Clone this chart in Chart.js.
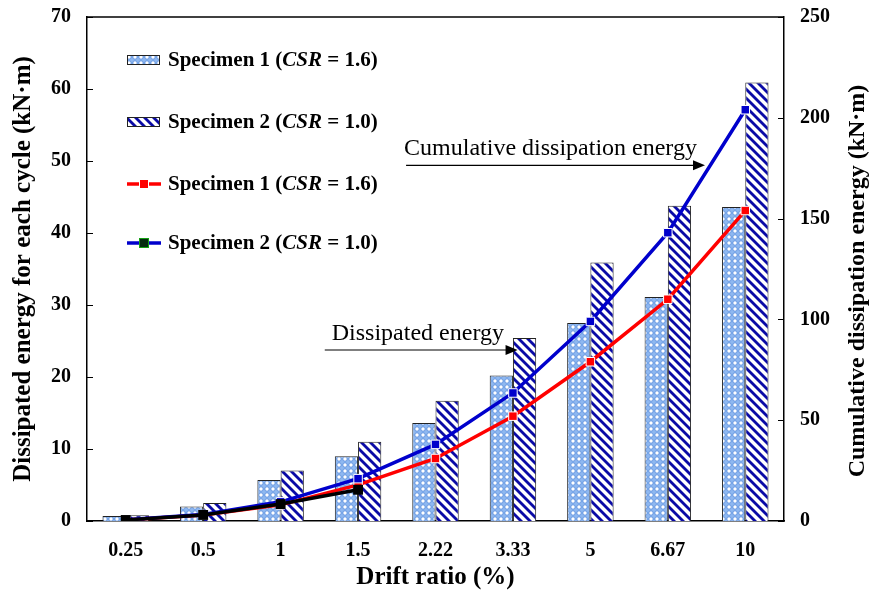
<!DOCTYPE html>
<html>
<head>
<meta charset="utf-8">
<script src="https://cdn.jsdelivr.net/npm/chart.js@4.4.0/dist/chart.umd.min.js"></script>
<style>
  html, body { margin: 0; padding: 0; background: #fff; }
</style>
</head>
<body>
<canvas id="energy-chart" width="872" height="593"></canvas>
<script>
// categories
const driftRatios = ['0.25', '0.5', '1', '1.5', '2.22', '3.33', '5', '6.67', '10'];

// dissipated energy for each cycle (left axis, kN·m)
const spec1Energy = [0.7, 2.0, 5.7, 9.0, 13.6, 20.2, 27.5, 31.1, 43.6];
const spec2Energy = [0.8, 2.5, 7.0, 11.0, 16.7, 25.4, 35.9, 43.8, 60.9];

// cumulative dissipation energy (right axis, kN·m)
const spec1Cumulative = [0.5, 3.0, 8.0, 17.9, 31.0, 52.0, 79.0, 110.0, 154.0];
const spec2Cumulative = [0.6, 3.2, 9.5, 21.0, 38.0, 63.5, 99.0, 143.0, 204.0];
const extraCumulative = [0.5, 3.0, 8.4, 15.5];

// axis ticks
const leftTicks = [0, 10, 20, 30, 40, 50, 60, 70];
const rightTicks = [0, 50, 100, 150, 200, 250];

const serif = "'Liberation Serif', 'Times New Roman', serif";

const canvas = document.getElementById('energy-chart');
const ctx = canvas.getContext('2d');

// 氣泡紋理
function makeDotPattern() {
    const c = document.createElement('canvas');
    c.width = 6; c.height = 6;
    const g = c.getContext('2d');
    g.fillStyle = '#8fb8f0';
    g.fillRect(0, 0, 6, 6);
    g.fillStyle = '#ffffff';
    g.strokeStyle = '#4f86dc';
    g.lineWidth = 0.8;
    g.beginPath();
    g.arc(3, 3, 2.2, 0, Math.PI * 2);
    g.fill();
    g.stroke();
    return ctx.createPattern(c, 'repeat');
}

// 斜線紋理
function makeStripePattern() {
    const c = document.createElement('canvas');
    c.width = 9; c.height = 9;
    const g = c.getContext('2d');
    g.fillStyle = '#ffffff';
    g.fillRect(0, 0, 9, 9);
    g.strokeStyle = '#0a0aa6';
    g.lineWidth = 2.8;
    [-9, 0, 9].forEach(k => {
        g.beginPath();
        g.moveTo(k - 1, -1);
        g.lineTo(k + 10, 10);
        g.stroke();
    });
    return ctx.createPattern(c, 'repeat');
}

const dotPattern = makeDotPattern();
const stripePattern = makeStripePattern();

const legendItems = [
    { kind: 'bar', fill: dotPattern, label: ['Specimen 1 (', 'CSR', ' = 1.6)'] },
    { kind: 'bar', fill: stripePattern, label: ['Specimen 2 (', 'CSR', ' = 1.0)'] },
    { kind: 'line', color: '#ff0000', marker: '#ff0000', edge: '#ffffff', label: ['Specimen 1 (', 'CSR', ' = 1.6)'] },
    { kind: 'line', color: '#0000cc', marker: '#062a10', edge: '#14a014', label: ['Specimen 2 (', 'CSR', ' = 1.0)'] }
];

const notes = [
    { text: 'Dissipated energy', from: 2.57, to: 5.06, y: 23.75, dx: 7 },
    { text: 'Cumulative dissipation energy', from: 3.62, to: 7.48, y: 49.4, dx: -2 }
];

const decorPlugin = {
    id: 'decor',
    afterDraw(chart) {
        const c = chart.ctx;
        const area = chart.chartArea;
        const x = chart.scales.x;
        const y = chart.scales.y;
        const y1 = chart.scales.y1;
        c.save();

        // 上邊框
        c.strokeStyle = '#000';
        c.lineWidth = 1.5;
        c.beginPath();
        c.moveTo(area.left, area.top);
        c.lineTo(area.right, area.top);
        c.stroke();

        // 內側刻度
        c.lineWidth = 1;
        leftTicks.forEach(v => {
            const py = Math.round(y.getPixelForValue(v)) + 0.5;
            c.beginPath();
            c.moveTo(area.left, py);
            c.lineTo(area.left + 6, py);
            c.stroke();
        });
        rightTicks.forEach(v => {
            const py = Math.round(y1.getPixelForValue(v)) + 0.5;
            c.beginPath();
            c.moveTo(area.right - 6, py);
            c.lineTo(area.right, py);
            c.stroke();
        });

        // 註解箭頭
        notes.forEach(n => {
            const xs = x.getPixelForValue(n.from);
            const xe = x.getPixelForValue(n.to);
            const py = y.getPixelForValue(n.y);
            c.strokeStyle = '#000';
            c.fillStyle = '#000';
            c.lineWidth = 1.2;
            c.beginPath();
            c.moveTo(xs, py);
            c.lineTo(xe - 10, py);
            c.stroke();
            c.beginPath();
            c.moveTo(xe, py);
            c.lineTo(xe - 12, py - 5);
            c.lineTo(xe - 12, py + 5);
            c.closePath();
            c.fill();
            c.font = '24px ' + serif;
            c.textAlign = 'left';
            c.textBaseline = 'alphabetic';
            c.fillText(n.text, xs + n.dx, py - 10);
        });

        // 圖例
        const lx = area.left + 40;
        const rows = [43, 105, 167, 226];
        legendItems.forEach((item, i) => {
            const cy = area.top + rows[i];
            if (item.kind === 'bar') {
                c.fillStyle = item.fill;
                c.fillRect(lx, cy - 5, 33, 10);
                c.strokeStyle = '#222';
                c.lineWidth = 1;
                c.strokeRect(lx + 0.5, cy - 4.5, 32, 9);
            } else {
                c.strokeStyle = item.color;
                c.lineWidth = 3.5;
                c.beginPath();
                c.moveTo(lx, cy);
                c.lineTo(lx + 34, cy);
                c.stroke();
                c.fillStyle = item.marker;
                c.fillRect(lx + 12, cy - 5, 10, 10);
                c.strokeStyle = item.edge;
                c.lineWidth = 1;
                c.strokeRect(lx + 12.5, cy - 4.5, 9, 9);
            }
            let tx = lx + 41;
            c.fillStyle = '#000';
            c.textBaseline = 'middle';
            item.label.forEach((part, j) => {
                c.font = (j === 1 ? 'italic bold ' : 'bold ') + '21px ' + serif;
                c.fillText(part, tx, cy + 1);
                tx += c.measureText(part).width;
            });
        });

        // 右軸標題
        c.translate(chart.width - 14, (area.top + area.bottom) / 2 + 12);
        c.rotate(-Math.PI / 2);
        c.font = 'bold 24px ' + serif;
        c.textAlign = 'center';
        c.textBaseline = 'middle';
        c.fillStyle = '#000';
        c.fillText('Cumulative dissipation energy (kN·m)', 0, 0);
        c.restore();
    }
};

const tickFont = { family: serif, size: 20, weight: 'bold' };
const titleFont = { family: serif, size: 25, weight: 'bold' };

new Chart(ctx, {
    data: {
        labels: driftRatios,
        datasets: [
            {
                type: 'line', data: extraCumulative, yAxisID: 'y1', order: 1,
                borderColor: '#000', borderWidth: 3.5, pointStyle: 'rect',
                pointRadius: 7, pointBackgroundColor: '#000', pointBorderColor: '#000', pointBorderWidth: 0
            },
            {
                type: 'line', data: spec2Cumulative, yAxisID: 'y1', order: 2,
                borderColor: '#0000cc', borderWidth: 3.5, pointStyle: 'rect',
                pointRadius: 6, pointBackgroundColor: '#0000cc', pointBorderColor: '#ffffff', pointBorderWidth: 1
            },
            {
                type: 'line', data: spec1Cumulative, yAxisID: 'y1', order: 3,
                borderColor: '#ff0000', borderWidth: 3.5, pointStyle: 'rect',
                pointRadius: 6, pointBackgroundColor: '#ff0000', pointBorderColor: '#ffffff', pointBorderWidth: 1
            },
            {
                type: 'bar', data: spec1Energy, yAxisID: 'y', order: 10,
                backgroundColor: dotPattern, borderColor: '#222', borderWidth: 1,
                barPercentage: 1, categoryPercentage: 0.6
            },
            {
                type: 'bar', data: spec2Energy, yAxisID: 'y', order: 10,
                backgroundColor: stripePattern, borderColor: '#222', borderWidth: 1,
                barPercentage: 1, categoryPercentage: 0.6
            }
        ]
    },
    options: {
        responsive: false,
        animation: false,
        layout: { padding: { top: 17, right: 0, left: 0, bottom: 0 } },
        plugins: { legend: { display: false }, tooltip: { enabled: false } },
        scales: {
            x: {
                grid: { display: false, drawTicks: false },
                border: { color: '#000', width: 1.5 },
                ticks: { font: tickFont, color: '#000', padding: 18 },
                title: { display: true, text: 'Drift ratio (%)', font: titleFont, color: '#000', padding: { top: 0, bottom: 0 } },
                afterFit(scale) { scale.height = 72; }
            },
            y: {
                position: 'left', min: 0, max: 70,
                grid: { display: false, drawTicks: false },
                border: { color: '#000', width: 1.5 },
                ticks: { font: tickFont, color: '#000', padding: 16, stepSize: 10 },
                title: { display: true, text: 'Dissipated energy for each cycle (kN·m)', font: titleFont, color: '#000', padding: { top: 9, bottom: 0 } },
                afterFit(scale) { scale.width = 87; scale.paddingTop = 0; }
            },
            y1: {
                position: 'right', min: 0, max: 250,
                grid: { display: false, drawTicks: false },
                border: { color: '#000', width: 1.5 },
                ticks: { font: tickFont, color: '#000', padding: 16, stepSize: 50 },
                afterFit(scale) { scale.width = 88; scale.paddingTop = 0; }
            }
        }
    },
    plugins: [decorPlugin]
});
</script>
</body>
</html>
